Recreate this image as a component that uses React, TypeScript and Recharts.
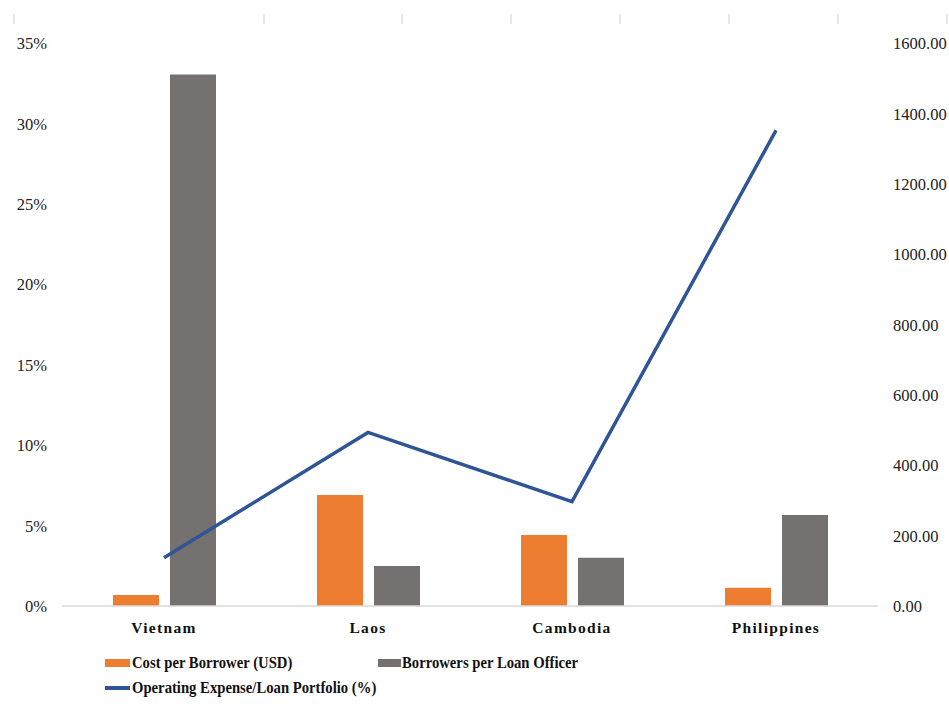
import React from "react";
import { ComposedChart, Bar, Line, XAxis, YAxis } from "recharts";

// Microfinance efficiency indicators by country
const countries = ["Vietnam", "Laos", "Cambodia", "Philippines"];
const costPerBorrower = [31, 316, 202, 52]; // USD (right axis)
const borrowersPerOfficer = [1512, 114, 137, 259]; // right axis
const opexRatio = [3.0, 10.8, 6.5, 29.6]; // percent (left axis)

const leftTicks = [0, 5, 10, 15, 20, 25, 30, 35];
const rightTicks = [0, 200, 400, 600, 800, 1000, 1200, 1400, 1600];

const data = countries.map((name, i) => ({
  name,
  cost: costPerBorrower[i],
  borrowers: borrowersPerOfficer[i],
  opex: opexRatio[i],
}));

const ORANGE = "#ED7D31";
const GRAY = "#767171";
const BLUE = "#2F5597";
const SERIF = "'Liberation Serif', 'Times New Roman', serif";

const topMarks = [14, 264, 402, 511, 620, 729, 838, 947];

const CategoryTick = (props: any) => {
  const { x, y, payload } = props;
  return (
    <text
      x={x}
      y={y + 27}
      textAnchor="middle"
      fontFamily={SERIF}
      fontWeight="bold"
      fontSize={15.5}
      letterSpacing={1.3}
      fill="#111"
    >
      {payload.value}
    </text>
  );
};

const legendText: React.CSSProperties = {
  fontFamily: SERIF,
  fontWeight: "bold",
  fontSize: 16.5,
  color: "#111",
  whiteSpace: "nowrap",
  display: "inline-block",
  transform: "scaleX(0.89)",
  transformOrigin: "left center",
};

export default function App() {
  return (
    <div
      style={{
        position: "absolute",
        left: 0,
        top: 0,
        width: 949,
        height: 713,
        background: "#fff",
      }}
    >
      <svg
        width={949}
        height={30}
        style={{ position: "absolute", left: 0, top: 0 }}
      >
        {topMarks.map((mx) => (
          <line key={mx} x1={mx} x2={mx} y1={14} y2={24} stroke="#cfcfcf" strokeWidth={1} />
        ))}
      </svg>
      <ComposedChart
        width={949}
        height={713}
        data={data}
        margin={{ top: 43.5, right: 0, left: 0, bottom: 77 }}
        barSize={46}
        barGap={11}
      >
        <XAxis
          dataKey="name"
          xAxisId={0}
          height={30}
          tickLine={false}
          tickSize={0}
          tickMargin={0}
          axisLine={{ stroke: "#d9d9d9", strokeWidth: 1.5 }}
          tick={<CategoryTick />}
          interval={0}
        />
        <YAxis
          yAxisId="left"
          orientation="left"
          width={62}
          domain={[0, 35]}
          ticks={leftTicks}
          tickFormatter={(v: number) => `${v}%`}
          axisLine={false}
          tickLine={false}
          tickSize={0}
          tickMargin={15}
          tick={{ fontFamily: SERIF, fontSize: 16.5, fill: "#222" }}
          interval={0}
        />
        <YAxis
          yAxisId="right"
          orientation="right"
          width={71}
          domain={[0, 1600]}
          ticks={rightTicks}
          tickFormatter={(v: number) => v.toFixed(2)}
          axisLine={false}
          tickLine={false}
          tickSize={0}
          tickMargin={15}
          tick={{ fontFamily: SERIF, fontSize: 16.5, fill: "#222" }}
          interval={0}
        />
        <Bar
          yAxisId="right"
          dataKey="cost"
          name="Cost per Borrower (USD)"
          fill={ORANGE}
          isAnimationActive={false}
        />
        <Bar
          yAxisId="right"
          dataKey="borrowers"
          name="Borrowers per Loan Officer"
          fill={GRAY}
          isAnimationActive={false}
        />
        <Line
          yAxisId="left"
          dataKey="opex"
          name="Operating Expense/Loan Portfolio (%)"
          stroke={BLUE}
          strokeWidth={3.5}
          dot={false}
          activeDot={false}
          type="linear"
          isAnimationActive={false}
        />
      </ComposedChart>
      {/* Legend */}
      <div style={{ position: "absolute", left: 105, top: 653, display: "flex", alignItems: "center" }}>
        <div style={{ width: 25, height: 8, background: ORANGE, marginRight: 2 }} />
        <span style={legendText}>Cost per Borrower (USD)</span>
      </div>
      <div style={{ position: "absolute", left: 378, top: 653, display: "flex", alignItems: "center" }}>
        <div style={{ width: 23, height: 8, background: GRAY, marginRight: 1 }} />
        <span style={legendText}>Borrowers per Loan Officer</span>
      </div>
      <div style={{ position: "absolute", left: 105, top: 678, display: "flex", alignItems: "center" }}>
        <div style={{ width: 25, height: 3.5, background: BLUE, marginRight: 2 }} />
        <span style={legendText}>Operating Expense/Loan Portfolio (%)</span>
      </div>
    </div>
  );
}
